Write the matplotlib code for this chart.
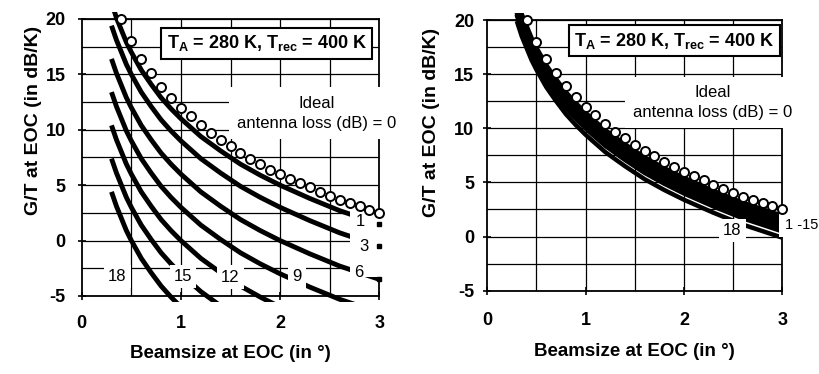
import numpy as np
import matplotlib
matplotlib.use('Agg')
import matplotlib.pyplot as plt
from matplotlib.transforms import Bbox, TransformedBbox
from matplotlib.patches import Rectangle

plt.rcParams['font.family'] = ['Liberation Sans', 'DejaVu Sans']
plt.rcParams['font.weight'] = 'bold'
plt.rcParams['mathtext.default'] = 'regular'
plt.rcParams['axes.unicode_minus'] = False

# ---------------- data ----------------
beam = [0.30, 0.35, 0.40, 0.45, 0.50, 0.60, 0.70, 0.80, 0.90, 1.00,
        1.20, 1.40, 1.60, 1.80, 2.00, 2.30, 2.60, 3.00]

ideal_x = [0.4, 0.5, 0.6, 0.7, 0.8, 0.9, 1.0, 1.1, 1.2, 1.3, 1.4, 1.5, 1.6, 1.7,
           1.8, 1.9, 2.0, 2.1, 2.2, 2.3, 2.4, 2.5, 2.6, 2.7, 2.8, 2.9, 3.0]
ideal_gt = [20.0, 18.0, 16.4, 15.1, 13.9, 12.9, 12.0, 11.2, 10.4, 9.7, 9.1, 8.5,
            7.9, 7.4, 6.9, 6.4, 6.0, 5.6, 5.2, 4.8, 4.4, 4.0, 3.7, 3.4, 3.1, 2.8, 2.5]

# left panel: antenna loss 1 ... 18 dB
left_l1 = [21.5, 20.1, 19.0, 17.9, 17.0, 15.4, 14.1, 12.9, 11.9, 11.0, 9.4, 8.1, 6.9, 5.9, 5.0, 3.8, 2.7, 1.5]
left_l3 = [19.4, 18.1, 17.0, 15.9, 15.0, 13.4, 12.1, 10.9, 9.9, 9.0, 7.4, 6.1, 4.9, 3.9, 3.0, 1.8, 0.7, -0.5]
left_l6 = [16.4, 15.1, 14.0, 12.9, 12.0, 10.4, 9.1, 7.9, 6.9, 6.0, 4.4, 3.1, 1.9, 0.9, 0.0, -1.2, -2.3, -3.5]
left_l9 = [13.4, 12.1, 11.0, 9.9, 9.0, 7.4, 6.1, 4.9, 3.9, 3.0, 1.4, 0.1, -1.1, -2.1, -3.0, -4.2, -5.3, -6.5]
left_l12 = [10.4, 9.1, 8.0, 6.9, 6.0, 4.4, 3.1, 1.9, 0.9, 0.0, -1.6, -2.9, -4.1, -5.1, -6.0]
left_l15 = [7.4, 6.1, 5.0, 3.9, 3.0, 1.4, 0.1, -1.1, -2.1, -3.0, -4.6, -5.9]
left_l18 = [4.4, 3.1, 2.0, 0.9, 0.0, -1.6, -2.9, -4.1, -5.1, -6.0]

# right panel: antenna loss 1 ... 18 dB
right_l1 = [21.9, 20.5, 19.4, 18.3, 17.4, 15.8, 14.5, 13.3, 12.3, 11.4, 9.8, 8.5, 7.3, 6.3, 5.4, 4.2, 3.1, 1.9]
right_l3 = [21.6, 20.2, 19.1, 18.0, 17.1, 15.5, 14.2, 13.0, 12.0, 11.1, 9.5, 8.2, 7.0, 6.0, 5.1, 3.9, 2.8, 1.6]
right_l6 = [21.3, 19.9, 18.8, 17.7, 16.8, 15.2, 13.9, 12.7, 11.7, 10.8, 9.2, 7.9, 6.7, 5.7, 4.8, 3.6, 2.5, 1.3]
right_l9 = [21.0, 19.6, 18.5, 17.4, 16.5, 14.9, 13.6, 12.4, 11.4, 10.5, 8.9, 7.6, 6.4, 5.4, 4.5, 3.3, 2.2, 1.0]
right_l12 = [20.7, 19.4, 18.2, 17.2, 16.3, 14.7, 13.3, 12.2, 11.2, 10.3, 8.7, 7.3, 6.2, 5.1, 4.2, 3.0, 1.9, 0.7]
right_l15 = [20.5, 19.1, 18.0, 16.9, 16.0, 14.4, 13.1, 11.9, 10.9, 10.0, 8.4, 7.1, 5.9, 4.9, 4.0, 2.8, 1.7, 0.5]
right_l18 = [19.9, 18.5, 17.4, 16.3, 15.4, 13.8, 12.5, 11.3, 10.3, 9.4, 7.8, 6.5, 5.3, 4.3, 3.4, 2.2, 1.1, -0.1]

x_ticks = [0, 1, 2, 3]
y_ticks = [-5, 0, 5, 10, 15, 20]
temp_text = r'T$_\mathregular{A}$ = 280 K, T$_\mathregular{rec}$ = 400 K'
ideal_text = 'Ideal\nantenna loss (dB) = 0'
xlabel = 'Beamsize at EOC (in °)'
ylabel = 'G/T at EOC (in dB/K)'

# ---------------- figure ----------------
fig = plt.figure(figsize=(8.19, 3.74), dpi=100)
axL = fig.add_axes([0.0998, 0.2086, 0.3634, 0.7406])
axR = fig.add_axes([0.5950, 0.2227, 0.3602, 0.7238])


def frame(ax, xpad, ypad, xl, yl):
    ax.set_xlim(0, 3)
    ax.set_ylim(-5, 20)
    for y in np.arange(-5, 20.01, 2.5):
        ax.plot([0, 3], [y, y], color='black', lw=0.9, zorder=1)
    for x in np.arange(0.5, 3.0, 0.5):
        ax.plot([x, x], [-5, 20], color='black', lw=0.9, zorder=1)
    for s in ax.spines.values():
        s.set_linewidth(1.3)
    ax.set_xticks(x_ticks)
    ax.set_yticks(y_ticks)
    ax.tick_params(direction='inout', length=6, width=1.2, labelsize=13)
    ax.tick_params(axis='x', pad=xpad)
    ax.tick_params(axis='y', pad=ypad)
    ax.set_xlabel(xlabel, fontsize=13.5, fontweight='bold')
    ax.set_ylabel(ylabel, fontsize=14, fontweight='bold')
    ax.xaxis.set_label_coords(0.5, xl)
    ax.yaxis.set_label_coords(yl[0], yl[1])


def curve(ax, vals, lw=3.5):
    ln, = ax.plot(beam[:len(vals)], vals, color='black', lw=lw,
                  solid_capstyle='butt', zorder=3)
    ln.set_clip_box(TransformedBbox(Bbox([[0.0, -5.55], [3.02, 20.65]]), ax.transData))
    return ln


frame(axL, 10.5, 8.5, -0.177, (-0.134, 0.635))
frame(axR, 12.5, 6.5, -0.193, (-0.159, 0.62))

# ---- left panel ----
for vals in [left_l1, left_l3, left_l6, left_l9, left_l12, left_l15, left_l18]:
    curve(axL, vals)

axL.add_patch(Rectangle((2.70, -3.3), 0.34, 6.05, fc='white', ec='none',
                        zorder=5, clip_on=False))
axL.plot([3.0, 3.0, 3.0], [left_l1[-1], left_l3[-1], left_l6[-1]], 's', ms=3,
         color='black', zorder=6, clip_on=False)
axL.plot(ideal_x, ideal_gt, 'o', ms=6.5, mfc='white', mec='black', mew=1.4,
         zorder=6, clip_on=False)

small = dict(fontsize=12, fontweight='normal', ha='center', va='center', zorder=7)
boxed = dict(boxstyle='square,pad=0.25', fc='white', ec='none')
axL.text(2.81, 1.7, '1', **small)
axL.text(2.84, -0.55, '3', **small)
axL.text(2.79, -2.9, '6', **small)
axL.text(2.17, -3.25, '9', bbox=boxed, **small)
axL.text(1.50, -3.3, '12', bbox=boxed, **small)
axL.text(1.02, -3.25, '15', bbox=boxed, **small)
axL.text(0.36, -3.25, '18', bbox=boxed, **small)

axL.text(1.865, 17.8, temp_text, fontsize=13, fontweight='bold', ha='center',
         va='center', zorder=7,
         bbox=dict(boxstyle='square,pad=0.3', fc='white', ec='black', lw=1.5))
axL.text(2.37, 11.5, ideal_text, fontsize=12, fontweight='normal', ha='center',
         va='center', multialignment='center', linespacing=1.4, zorder=7,
         bbox=dict(boxstyle='square,pad=0.5', fc='white', ec='none'))

# ---- right panel ----
for vals in [right_l1, right_l3, right_l6, right_l9, right_l12, right_l15]:
    curve(axR, vals)
curve(axR, right_l18, lw=3.2)

axR.add_patch(Rectangle((2.965, -0.05), 0.6, 2.25, fc='white', ec='none',
                        zorder=5, clip_on=False))
axR.plot(ideal_x, ideal_gt, 'o', ms=6.5, mfc='white', mec='black', mew=1.4,
         zorder=6, clip_on=False)
axR.text(3.03, 1.05, '1 -15', fontsize=10.5, fontweight='normal', ha='left',
         va='center', zorder=7, clip_on=False)
axR.text(2.49, 0.55, '18', bbox=boxed, **small)

axR.text(1.90, 18.1, temp_text, fontsize=13, fontweight='bold', ha='center',
         va='center', zorder=7,
         bbox=dict(boxstyle='square,pad=0.3', fc='white', ec='black', lw=1.5))
axR.text(2.29, 12.4, ideal_text, fontsize=12, fontweight='normal', ha='center',
         va='center', multialignment='center', linespacing=1.4, zorder=7,
         bbox=dict(boxstyle='square,pad=0.5', fc='white', ec='none'))

fig.savefig('out.png', dpi=100)
